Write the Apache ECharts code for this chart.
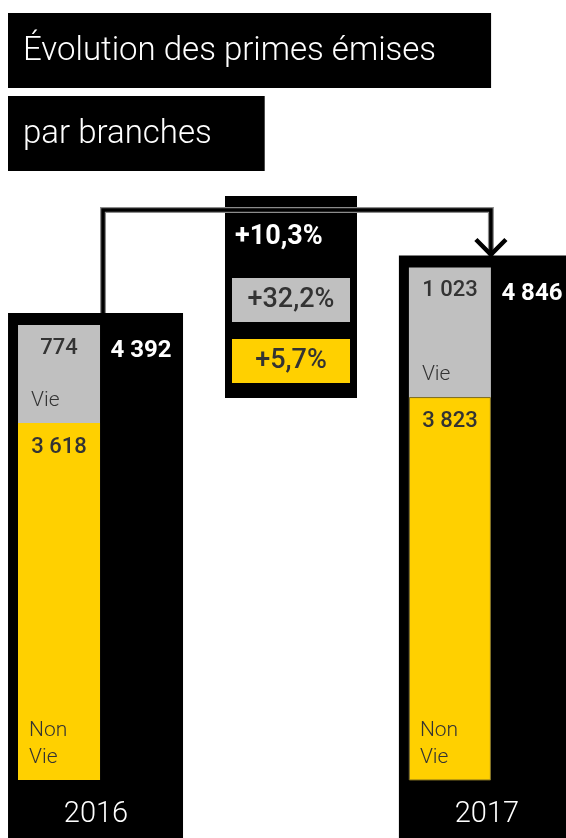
<!DOCTYPE html>
<html>
<head>
<meta charset="utf-8">
<script src="https://cdn.jsdelivr.net/npm/echarts@6/dist/echarts.min.js"></script>
<style>
  html, body { margin: 0; padding: 0; background: #fff; }
  #main { width: 566px; height: 838px; }
</style>
</head>
<body>
<div id="main"></div>
<script>
// données
var years = ['2016', '2017']
var nonVie = [3618, 3823]
var vie = [774, 1023]
var totals = [4392, 4846]
var labelsVie = ['774', '1 023']
var labelsNonVie = ['3 618', '3 823']
var labelsTotal = ['4 392', '4 846']
var evolutions = ['+10,3%', '+32,2%', '+5,7%'] // total, vie, non vie

var FONT = 'Roboto, "Liberation Sans", sans-serif'
var YELLOW = '#FFD000'
var GREY = '#C0C0C0'
var DARK = '#333333'

var chart = echarts.init(document.getElementById('main'))

// panneaux noirs + flèche (sous les barres)
function renderPanel (params, api) {
  var i = params.dataIndex
  var top = api.coord([i, api.value(1)])
  var cx = top[0]
  var panelTop = top[1] - 12
  var h = api.getHeight()
  var children = [
    {
      type: 'rect',
      shape: { x: cx - 51, y: panelTop, width: 175, height: h - panelTop },
      style: { fill: '#000' }
    }
  ]
  // flèche de liaison 2016 -> 2017
  if (i === 1) {
    var prev = api.coord([0, totals[0]])
    var x0 = prev[0] + 44
    var y0 = prev[1] - 12
    var x1 = cx + 41
    var yl = 210
    var pts = [[x0, y0], [x0, yl], [x1, yl], [x1, panelTop]]
    var head = [[x1 - 15, panelTop - 16], [x1, panelTop - 1], [x1 + 15, panelTop - 16]]
    children.unshift(
      { type: 'polyline', shape: { points: pts }, style: { stroke: '#8c8c8c', lineWidth: 6, fill: null } },
      { type: 'polyline', shape: { points: pts }, style: { stroke: '#000', lineWidth: 3.5, fill: null } },
      { type: 'polyline', shape: { points: head }, style: { stroke: '#000', lineWidth: 4.5, fill: null } }
    )
  }
  return { type: 'group', children: children }
}

// textes annexes (au-dessus des barres)
function renderTexts (params, api) {
  var i = params.dataIndex
  var top = api.coord([i, api.value(1)])
  var cx = top[0]
  var cs = params.coordSys
  var bottom = cs.y + cs.height
  return {
    type: 'group',
    children: [
      {
        type: 'text',
        style: {
          text: labelsTotal[i], x: cx + 82, y: top[1] + 26,
          fill: '#fff', font: 'bold 24px ' + FONT, textAlign: 'center', textVerticalAlign: 'middle'
        }
      },
      {
        type: 'text',
        style: {
          text: 'Vie', x: cx - 28, y: api.coord([i, nonVie[i]])[1] - 22,
          fill: DARK, font: '300 21px ' + FONT, textAlign: 'left', textVerticalAlign: 'middle'
        }
      },
      {
        type: 'text',
        style: {
          text: 'Non\nVie', x: cx - 30, y: bottom - 63,
          fill: DARK, font: '300 21px ' + FONT, lineHeight: 27, textAlign: 'left', textVerticalAlign: 'top'
        }
      },
      {
        type: 'text',
        style: {
          text: years[i], x: cx + 37, y: bottom + 35,
          fill: '#fff', font: '300 29px ' + FONT, textAlign: 'center', textVerticalAlign: 'middle'
        }
      }
    ]
  }
}

var option = {
  animation: false,
  title: [
    {
      text: 'Évolution des primes émises',
      left: 8, top: 13,
      backgroundColor: '#000',
      padding: [22, 55, 20, 15],
      textStyle: { color: '#fff', fontSize: 33, fontWeight: 300, fontFamily: FONT, lineHeight: 33 }
    },
    {
      text: 'par branches',
      left: 8, top: 96,
      backgroundColor: '#000',
      padding: [22, 53, 20, 15],
      textStyle: { color: '#fff', fontSize: 33, fontWeight: 300, fontFamily: FONT, lineHeight: 33 }
    }
  ],
  grid: { left: 0, right: 0, top: 248, bottom: 58 },
  xAxis: { type: 'value', min: -0.151, max: 1.297, show: false },
  yAxis: { type: 'value', min: 800, max: 5000, show: false },
  graphic: [
    {
      type: 'group', left: 225, top: 196,
      children: [
        { type: 'rect', shape: { x: 0, y: 0, width: 132, height: 202 }, style: { fill: '#000' } },
        { type: 'text', style: { text: evolutions[0], x: 10, y: 41, fill: '#fff', font: 'bold 27px ' + FONT, textVerticalAlign: 'middle' } },
        { type: 'rect', shape: { x: 7, y: 82, width: 118, height: 44 }, style: { fill: GREY } },
        { type: 'text', style: { text: evolutions[1], x: 66, y: 104, fill: DARK, font: '500 27px ' + FONT, textAlign: 'center', textVerticalAlign: 'middle' } },
        { type: 'rect', shape: { x: 7, y: 143, width: 118, height: 44 }, style: { fill: YELLOW } },
        { type: 'text', style: { text: evolutions[2], x: 66, y: 165, fill: DARK, font: '500 27px ' + FONT, textAlign: 'center', textVerticalAlign: 'middle' } }
      ]
    }
  ],
  series: [
    {
      type: 'custom',
      z: 1,
      renderItem: renderPanel,
      data: years.map(function (y, i) { return [i, totals[i]] })
    },
    {
      // la part Vie occupe le haut de la barre totale, le Non Vie est dessiné par-dessus
      name: 'Vie',
      type: 'bar',
      z: 2,
      clip: true,
      barWidth: 82,
      barGap: '-100%',
      data: totals.map(function (v, i) { return [i, v] }),
      itemStyle: { color: GREY },
      label: {
        show: true, position: 'insideTop', distance: 12,
        formatter: function (p) { return labelsVie[p.dataIndex] },
        color: DARK, fontSize: 22, fontWeight: 500, fontFamily: FONT
      }
    },
    {
      name: 'Non Vie',
      type: 'bar',
      z: 2,
      clip: true,
      barWidth: 82,
      barGap: '-100%',
      data: nonVie.map(function (v, i) {
        var d = { value: [i, v] }
        if (i === 1) d.itemStyle = { borderColor: '#7a6a20', borderWidth: 1 }
        return d
      }),
      itemStyle: { color: YELLOW },
      label: {
        show: true, position: 'insideTop', distance: 13,
        formatter: function (p) { return labelsNonVie[p.dataIndex] },
        color: DARK, fontSize: 22, fontWeight: 500, fontFamily: FONT
      }
    },
    {
      type: 'custom',
      z: 3,
      renderItem: renderTexts,
      data: years.map(function (y, i) { return [i, totals[i]] })
    }
  ]
}
chart.setOption(option)
</script>
</body>
</html>
